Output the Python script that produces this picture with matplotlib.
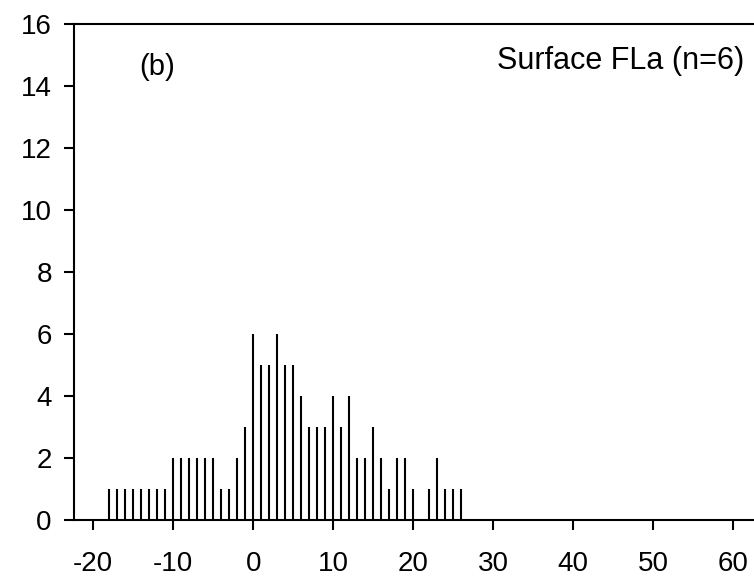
import matplotlib
matplotlib.use("Agg")
import matplotlib.pyplot as plt

# counts per integer bin
positions = list(range(-18, 27))
counts = [1, 1, 1, 1, 1, 1, 1, 1,      # -18 .. -11
          2, 2, 2, 2, 2, 2,            # -10 .. -5
          1, 1, 2, 3,                  # -4 .. -1
          6, 5, 5, 6, 5, 5, 4,         # 0 .. 6
          3, 3, 3, 4, 3, 4,            # 7 .. 12
          2, 2, 3, 2, 1, 2, 2, 1,      # 13 .. 20
          0, 1, 2, 1, 1, 1]            # 21 .. 26
x_ticks = [-20, -10, 0, 10, 20, 30, 40, 50, 60]
y_ticks = [0, 2, 4, 6, 8, 10, 12, 14, 16]
panel_label = "(b)"
series_label = "Surface FLa (n=6)"

plt.rcParams["font.family"] = ["Liberation Sans", "DejaVu Sans"]
plt.rcParams["axes.unicode_minus"] = False

fig = plt.figure(figsize=(7.54, 5.77), dpi=100)
ax = fig.add_axes([74 / 754, 1 - 520 / 577, 1 - 74 / 754, (520 - 23.5) / 577])

ax.vlines(positions, 0, counts, colors="black", linewidth=1.5)

ax.set_xlim(-22.4, 62.6)
ax.set_ylim(0, 16)
ax.set_xticks(x_ticks)
ax.set_yticks(y_ticks)
ax.tick_params(direction="out", length=7, width=1.5, labelsize=20)
ax.tick_params(axis="x", pad=15)
ax.tick_params(axis="y", pad=9)

for side in ("left", "bottom", "top"):
    ax.spines[side].set_linewidth(1.5)
ax.spines["right"].set_visible(False)

ax.text(-14.3, 14.6, panel_label, fontsize=21, va="center")
ax.text(61.4, 14.8, series_label, fontsize=22, va="center", ha="right")

fig.savefig("out.png", dpi=100)
